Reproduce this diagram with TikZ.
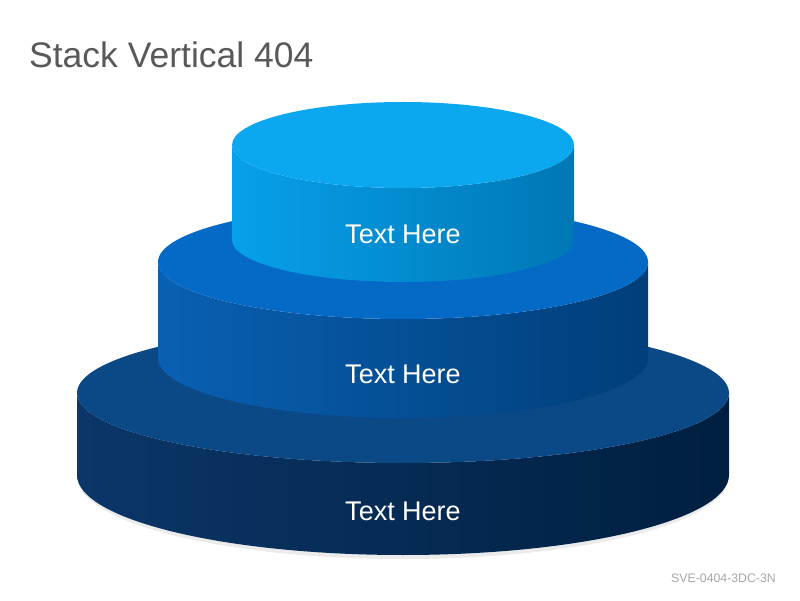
\documentclass[tikz,border=0pt]{standalone}
\usepackage{fontspec}
\setmainfont{Liberation Sans}
\usepackage{xcolor}

\definecolor{lowtop}{HTML}{0B4886}
\definecolor{lowleft}{HTML}{0B3668}
\definecolor{lowright}{HTML}{001F40}
\definecolor{midtop}{HTML}{0569C6}
\definecolor{midleft}{HTML}{0960B2}
\definecolor{midright}{HTML}{003E79}
\definecolor{uptop}{HTML}{0CA8EF}
\definecolor{upleft}{HTML}{07A0EA}
\definecolor{upright}{HTML}{0077B5}
\definecolor{titlegray}{HTML}{595959}
\definecolor{codegray}{HTML}{A6A6A6}

\begin{document}
\begin{tikzpicture}[x=1pt, y=1pt,
        label/.style = {text=white, font=\fontsize{27}{32}\selectfont},
        title/.style = {text=titlegray, font=\fontsize{35.5}{40}\selectfont, anchor=base west, inner sep=0pt},
        code/.style = {text=codegray, font=\fontsize{12.3}{14}\selectfont, anchor=base east, inner sep=0pt}]
    \useasboundingbox[fill=white] (0,0) rectangle (800,600);

    % shadow under the bottom layer
    \fill[black!8] (403,122) ellipse [x radius=325, y radius=81];

    % bottom layer
    \shade[left color=lowleft, right color=lowright]
        (77,207) -- (77,125) arc[start angle=180, end angle=360, x radius=326, y radius=80]
        -- (729,207) arc[start angle=0, end angle=-180, x radius=326, y radius=70] -- cycle;
    \fill[lowtop] (403,207) ellipse [x radius=326, y radius=70];

    % middle layer
    \shade[left color=midleft, right color=midright]
        (158,338) -- (158,242) arc[start angle=180, end angle=360, x radius=245, y radius=60]
        -- (648,338) arc[start angle=0, end angle=-180, x radius=245, y radius=57] -- cycle;
    \fill[midtop] (403,338) ellipse [x radius=245, y radius=57];

    % top layer
    \shade[left color=upleft, right color=upright]
        (232,455) -- (232,360) arc[start angle=180, end angle=360, x radius=171, y radius=42]
        -- (574,455) arc[start angle=0, end angle=-180, x radius=171, y radius=43] -- cycle;
    \fill[uptop] (403,455) ellipse [x radius=171, y radius=43];

    \node[label] (up) at (403,366) {Text Here};
    \node[label] (mid) at (403,226) {Text Here};
    \node[label] (low) at (403,89) {Text Here};

    \node[title] (head) at (29,532) {Stack Vertical 404};
    \node[code] (tag) at (776,18) {SVE-0404-3DC-3N};
\end{tikzpicture}
\end{document}
